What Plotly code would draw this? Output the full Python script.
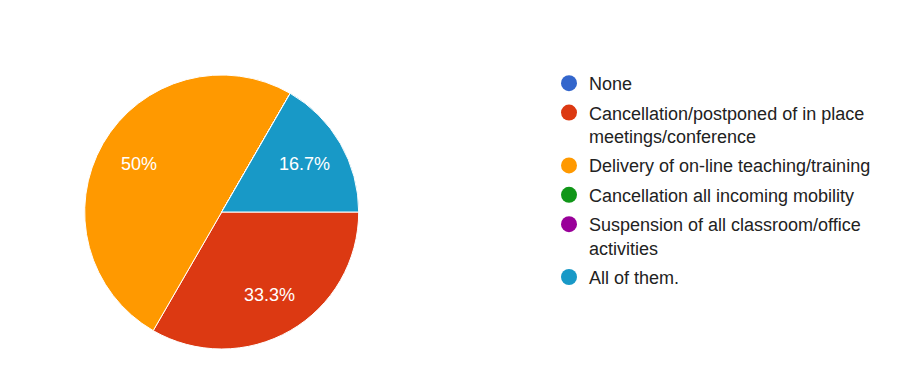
import math
import plotly.graph_objects as go

categories = [
    "None",
    "Cancellation/postponed of in place meetings/conference",
    "Delivery of on-line teaching/training",
    "Cancellation all incoming mobility",
    "Suspension of all classroom/office activities",
    "All of them.",
]
legend_labels = [
    "None",
    "Cancellation/postponed of in place<br>meetings/conference",
    "Delivery of on-line teaching/training",
    "Cancellation all incoming mobility",
    "Suspension of all classroom/office<br>activities",
    "All of them.",
]
counts = [0, 2, 3, 0, 0, 1]
colors = ["#3366cc", "#dc3912", "#ff9900", "#109618", "#990099", "#1899c7"]

FONT = "Arial, 'Liberation Sans', sans-serif"
# page body adds an 8px margin around the figure
W, H = 894, 368
OFF = 8
# pie placement (screen pixels)
PIE_L, PIE_R, PIE_T, PIE_B = 84.7, 358.7, 75.0, 349.0
dom_x = [(PIE_L - OFF) / W, (PIE_R - OFF) / W]
dom_y = [1 - (PIE_B - OFF) / H, 1 - (PIE_T - OFF) / H]

fig = go.Figure()
fig.add_trace(go.Pie(
    labels=categories,
    values=counts,
    sort=False,
    direction="clockwise",
    rotation=90,
    marker=dict(colors=colors, line=dict(color="white", width=1)),
    textinfo="none",
    showlegend=False,
    hoverinfo="label+percent",
    domain=dict(x=dom_x, y=dom_y),
))

for i, (name, col) in enumerate(zip(legend_labels, colors)):
    fig.add_trace(go.Scatter(
        x=[None], y=[None], mode="markers", name=name,
        legendgroup=f"g{i}",
        marker=dict(color=col, size=18, symbol="circle"),
        showlegend=True,
    ))

# percentage labels placed along each slice's bisector, derived from the counts
total = sum(counts)
cx_px = (PIE_L + PIE_R) / 2 - OFF
cy_px = (PIE_T + PIE_B) / 2 - OFF
R = (PIE_R - PIE_L) / 2
start = 90.0
annotations = []
for v in counts:
    if v <= 0:
        continue
    span = 360.0 * v / total
    mid = math.radians(start + span / 2)
    start += span
    pct = v / total * 100
    txt = f"{pct:.3g}%"
    px = cx_px + 0.7 * R * math.sin(mid)
    py = cy_px - 0.7 * R * math.cos(mid)
    annotations.append(dict(
        x=px / W, y=1 - py / H, xref="paper", yref="paper",
        text=txt, showarrow=False, xanchor="center", yanchor="middle",
        font=dict(family=FONT, size=18, color="white"),
    ))

fig.update_layout(
    width=W, height=H,
    margin=dict(l=0, r=0, t=0, b=0),
    paper_bgcolor="white",
    plot_bgcolor="white",
    xaxis=dict(visible=False),
    yaxis=dict(visible=False),
    font=dict(family=FONT, size=18, color="#222222"),
    annotations=annotations,
    legend=dict(
        x=541 / W, xanchor="left",
        y=1 - 57 / H, yanchor="top",
        font=dict(family=FONT, size=18, color="#222222"),
        bgcolor="rgba(0,0,0,0)",
        traceorder="grouped",
        tracegroupgap=3,
        valign="top",
    ),
)

fig.write_html("out.html")
